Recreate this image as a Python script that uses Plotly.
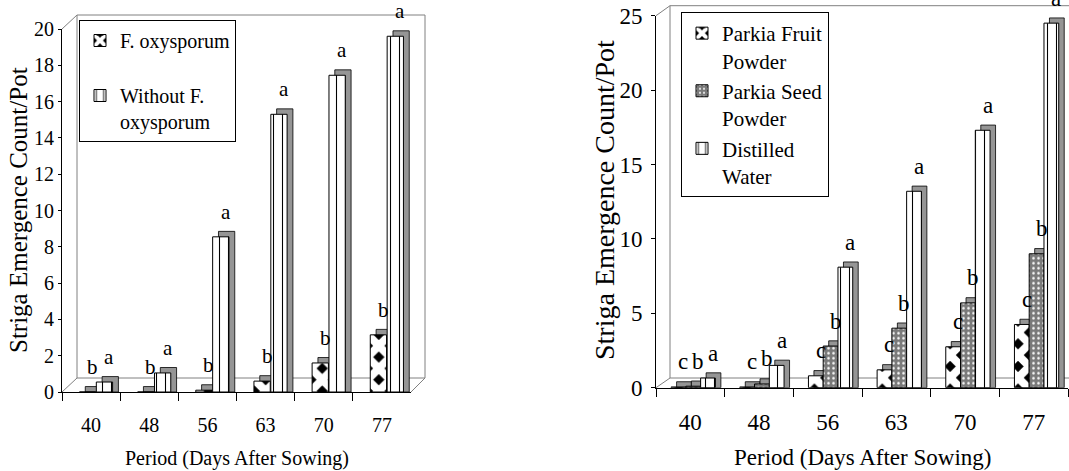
import plotly.graph_objects as go

# ---------------- data ----------------
periods = ["40", "48", "56", "63", "70", "77"]

# left chart
fox = [0.0, 0.0, 0.1, 0.6, 1.6, 3.15]
without_fox = [0.55, 1.05, 8.55, 15.3, 17.45, 19.6]
fox_letters = ["b", "b", "b", "b", "b", "b"]
without_letters = ["a", "a", "a", "a", "a", "a"]

# right chart
fruit = [0.05, 0.05, 0.8, 1.2, 2.75, 4.25]
seed = [0.1, 0.25, 2.8, 4.0, 5.7, 9.0]
water = [0.65, 1.5, 8.1, 13.2, 17.3, 24.5]
fruit_letters = ["c", "c", "c", "c", "c", "c"]
seed_letters = ["b", "b", "b", "b", "b", "b"]
water_letters = ["a", "a", "a", "a", "a", "a"]

left_ticks = [0, 2, 4, 6, 8, 10, 12, 14, 16, 18, 20]
right_ticks = [0, 5, 10, 15, 20, 25]

# ---------------- styling ----------------
W, H = 1069, 471
FONT = "Liberation Serif, Times New Roman, serif"

def px(x):
    return x / W

def py(y):
    return 1 - y / H

diamond = dict(shape="x", fgcolor="white", bgcolor="black", size=16, solidity=0.75)
dashes = dict(shape="|", fgcolor="black", bgcolor="white", size=9, solidity=0.12)
dots = dict(shape=".", fgcolor="white", bgcolor="#7a7a7a", size=5, solidity=0.2)

fig = go.Figure()

annotations = []


def add_series(name, vals, letters, pattern, offset, width, xa, ya, legend, dx, dy, fsize):
    # depth (3D side/top faces) drawn behind the front face
    fig.add_trace(go.Bar(
        x=periods, y=[v + dy for v in vals], offset=offset + dx, width=width,
        marker=dict(color="#959595", line=dict(color="black", width=0.8)),
        xaxis=xa, yaxis=ya, showlegend=False, hoverinfo="skip"))
    fig.add_trace(go.Bar(
        x=periods, y=vals, offset=offset, width=width, name=name,
        marker=dict(color="white", pattern=pattern, line=dict(color="black", width=1)),
        xaxis=xa, yaxis=ya, legend=legend))
    xref = "x" if xa == "x" else "x2"
    yref = "y" if ya == "y" else "y2"
    for i, (v, t) in enumerate(zip(vals, letters)):
        annotations.append(dict(
            x=i + offset + width / 2, y=v, xref=xref, yref=yref, text=t, showarrow=False,
            xshift=5, yshift=25, xanchor="center", yanchor="middle",
            font=dict(family=FONT, size=fsize, color="black")))


add_series("F. oxysporum<br>\u00a0", fox, fox_letters, diamond, -0.2, 0.28,
           "x", "y", "legend", 0.1, 0.3, 21)
add_series("Without F.<br>oxysporum", without_fox, without_letters, dashes, 0.09, 0.28,
           "x", "y", "legend", 0.1, 0.3, 21)

add_series("Parkia Fruit<br>Powder", fruit, fruit_letters, diamond, -0.28, 0.215,
           "x2", "y2", "legend2", 0.08, 0.35, 23)
add_series("Parkia Seed<br>Powder", seed, seed_letters, dots, -0.065, 0.215,
           "x2", "y2", "legend2", 0.08, 0.35, 23)
add_series("Distilled<br>Water", water, water_letters, dashes, 0.15, 0.215,
           "x2", "y2", "legend2", 0.08, 0.35, 23)

# axis titles
def title(x, y, text, size, angle=0):
    return dict(x=px(x), y=py(y), xref="paper", yref="paper", text=text, textangle=angle,
                showarrow=False, xanchor="center", yanchor="middle",
                font=dict(family=FONT, size=size, color="black"))

annotations += [
    title(18, 210, "Striga Emergence Count/Pot", 25, -90),
    title(237, 458, "Period (Days After Sowing)", 20),
    title(604, 200, "Striga Emergence Count/Pot", 28, -90),
    title(862, 457, "Period (Days After Sowing)", 23),
]

# 3D frame (back wall / floor outline)
G = "#808080"
frame_segments = [
    (62, 29, 77, 15), (77, 15, 425, 15), (425, 15, 425, 378), (77, 15, 77, 378),
    (62, 392, 77, 378), (77, 378, 425, 378), (411, 392, 425, 378),
    (656, 15.7, 670, 5.7), (670, 5.7, 1069, 5.7), (670, 5.7, 670, 378),
    (656, 387.7, 670, 378), (670, 378, 1069, 378),
]
shapes = [dict(type="line", xref="paper", yref="paper", x0=px(a), y0=py(b), x1=px(c), y1=py(d),
               line=dict(color=G, width=1), layer="below") for a, b, c, d in frame_segments]

axis_common = dict(showline=True, linecolor="black", linewidth=1, showgrid=False,
                   zeroline=False, ticks="outside", tickcolor="black", automargin=False)

fig.update_layout(
    template="none",
    width=W, height=H, margin=dict(l=0, r=0, t=0, b=0, pad=0, autoexpand=False),
    paper_bgcolor="white", plot_bgcolor="rgba(0,0,0,0)",
    barmode="overlay", font=dict(family=FONT, color="black"),
    xaxis=dict(domain=[px(62), px(411)], anchor="y", type="category", range=[-0.5, 5.5],
               tickson="boundaries", ticklen=8, ticklabelstandoff=15,
               tickfont=dict(family=FONT, size=20), **axis_common),
    yaxis=dict(domain=[py(392), py(29)], anchor="x", range=[0, 20], tickvals=left_ticks,
               ticklen=3, ticklabelstandoff=0, tickfont=dict(family=FONT, size=20), **axis_common),
    xaxis2=dict(domain=[px(656), px(1068)], anchor="y2", type="category", range=[-0.5, 5.5],
                tickson="boundaries", ticklen=8, ticklabelstandoff=14,
                tickfont=dict(family=FONT, size=23), **axis_common),
    yaxis2=dict(domain=[py(387.7), py(15.7)], anchor="x2", range=[0, 25], tickvals=right_ticks,
                ticklen=4, ticklabelstandoff=4, tickfont=dict(family=FONT, size=23), **axis_common),
    legend=dict(x=px(79), y=py(20), xanchor="left", yanchor="top", bgcolor="white",
                bordercolor="black", borderwidth=1, valign="top", traceorder="normal",
                font=dict(family=FONT, size=20, color="black"), tracegroupgap=0),
    legend2=dict(x=px(681), y=py(12), xanchor="left", yanchor="top", bgcolor="white",
                 bordercolor="black", borderwidth=1, valign="top", traceorder="normal",
                 font=dict(family=FONT, size=21, color="black"), tracegroupgap=0),
    annotations=annotations, shapes=shapes,
)

fig.write_html("out.html", config={"displayModeBar": False},
               post_script="document.body.style.margin='0';")
